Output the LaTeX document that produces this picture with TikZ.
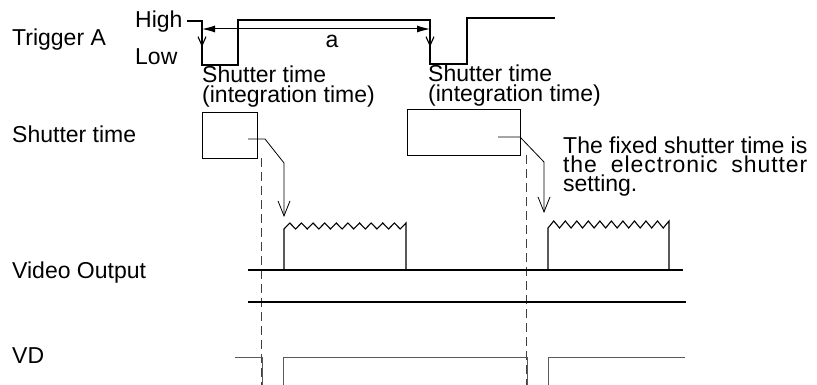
\documentclass[tikz,border=0pt]{standalone}
\usepackage{fontspec}
\setmainfont{Liberation Sans}
\usetikzlibrary{arrows.meta}
\newlength\notewd
\newcommand\mytextlines[2]{\parbox[t]{#1}{\lineskiplimit=-100pt\relax\raggedright #2}}
\begin{document}
\begin{tikzpicture}[x=1pt,y=-1pt,
  sig/.style={line width=1.1pt, line join=miter},
  thin/.style={line width=0.8pt},
  lbl/.style={anchor=base west, inner sep=0pt, font=\fontsize{23}{20}\selectfont},
  dashline/.style={line width=0.7pt, dash pattern=on 9pt off 5pt, black!75},
  vdline/.style={line width=0.8pt, black!65},
  bigarrow/.style={-{Straight Barb[length=15pt,width=12pt]}},
  smallarrow/.style={-{Straight Barb[length=9pt,width=8pt]}},
  dimarrow/.style={{Latex[length=13pt,width=7pt]}-{Latex[length=13pt,width=7pt]}},
  boxst/.style={draw, line width=0.8pt, inner sep=0pt, anchor=north west}
]
\useasboundingbox (0,0) rectangle (817,385);

% left labels
\node[lbl] (trig) at (12,45.5) {Trigger A};
\node[lbl] (shut) at (12,142.5) {Shutter time};
\node[lbl] (vout) at (12,278) {Video Output};
\node[lbl] (vd) at (12,363) {VD};

% trigger levels
\node[lbl] (high) at (135,28) {High};
\node[lbl] (low) at (135,65) {Low};
\node[lbl, anchor=base] (a) at (332,48) {a};

% trigger waveform
\coordinate (t0) at (187,21);
\coordinate (f1t) at (202,21);
\coordinate (f1b) at (202,65);
\coordinate (r1b) at (238,65);
\coordinate (r1t) at (238,20);
\coordinate (f2t) at (430,20);
\coordinate (f2b) at (430,64);
\coordinate (r2b) at (467,64);
\coordinate (r2t) at (467,18);
\coordinate (tend) at (555,18);
\draw[sig] (t0) -- (f1t) -- (f1b) -- (r1b) -- (r1t) -- (f2t) -- (f2b) -- (r2b) -- (r2t) -- (tend);
\coordinate (e1s) at (202,35); \coordinate (e1e) at (202,47);
\coordinate (e2s) at (430,35); \coordinate (e2e) at (430,47);
\draw[sig, smallarrow] (e1s) -- (e1e);
\draw[sig, smallarrow] (e2s) -- (e2e);
\coordinate (d1) at (202,29); \coordinate (d2) at (430,29);
\draw[line width=1pt, dimarrow] (d1) -- (d2);

% shutter time texts
\node[lbl] (st1) at (202,83) {\mytextlines{200pt}{Shutter time\\(integration time)}};
\node[lbl] (st2) at (428,82) {\mytextlines{200pt}{Shutter time\\(integration time)}};

% shutter boxes
\node[boxst, minimum width=55pt, minimum height=46pt] (b1) at (202,112) {};
\node[boxst, minimum width=113pt, minimum height=46pt] (b2) at (407,109) {};

% arrows from boxes to pulses
\coordinate (a1s) at (248,139); \coordinate (a1k) at (265,139);
\coordinate (a1d) at (284,163); \coordinate (a1e) at (284,217);
\draw[thin, bigarrow] (a1s) -- (a1k) -- (a1d) -- (a1e);
\coordinate (a2s) at (498,137); \coordinate (a2k) at (520,137);
\coordinate (a2d) at (544,162); \coordinate (a2e) at (544,213);
\draw[thin, bigarrow] (a2s) -- (a2k) -- (a2d) -- (a2e);

% note
\node[lbl, font=\fontsize{23}{18.5}\selectfont] (note) at (563,154)
  {\settowidth\notewd{The fixed shutter time is}%
   \mytextlines{\notewd}{The fixed shutter time is\\
   \makebox[\notewd][s]{\addfontfeature{LetterSpace=4}the electronic shutter}\\
   setting.}};

% dashed lines
\coordinate (k1t) at (261,158); \coordinate (k1b) at (261,385);
\coordinate (k2t) at (526,155); \coordinate (k2b) at (526,385);
\draw[dashline] (k1t) -- (k1b);
\draw[dashline] (k2t) -- (k2b);

% video output
\coordinate (vb0) at (248,270); \coordinate (vb1) at (683,270);
\draw[sig] (vb0) -- (vb1);
\draw[sig] (284,270) -- (284,229)
  \foreach \i in {1,...,21}{ -- ({284+\i*122/21},{229-6*mod(\i,2)}) } -- (406,270);
\draw[sig] (548,270) -- (548,228)
  \foreach \i in {1,...,21}{ -- ({548+\i*121/21},{228-7*mod(\i,2)}) } -- (669,270);
\coordinate (w0) at (248,302); \coordinate (w1) at (686,302);
\draw[sig] (w0) -- (w1);

% VD
\draw[vdline] (235,357) -- (262,357) -- (262,385);
\draw[vdline] (283,385) -- (283,357) -- (527,357) -- (527,385);
\draw[vdline] (548,385) -- (548,357) -- (685,357);
\end{tikzpicture}
\end{document}
